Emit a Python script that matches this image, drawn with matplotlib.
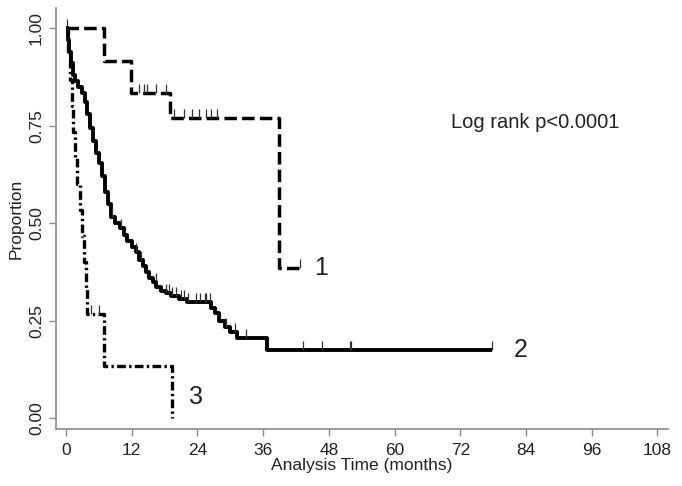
import numpy as np
import matplotlib
matplotlib.use("Agg")
import matplotlib.pyplot as plt

plt.rcParams['font.family'] = ['Liberation Sans', 'DejaVu Sans']

# ---- data ----
# group 1 (dashed)
g1_time = [0.0, 7.0, 11.8, 19.0, 38.8]
g1_surv = [1.0, 0.917, 0.833, 0.77, 0.385]
g1_end = 42.8
g1_cens = [13.3, 14.3, 14.8, 16.5, 18.3, 19.7, 21.6, 23.0, 24.3, 25.6, 26.5, 27.6, 42.8]

# group 2 (solid)
g2_time = [0.0, 0.3, 0.6, 0.9, 1.2, 1.6, 2.2, 2.9, 3.4, 3.9, 4.4, 4.9, 5.4, 6.0,
           6.6, 7.2, 7.7, 8.2, 9.0, 9.8, 10.5, 11.2, 12.0, 12.7, 13.4, 14.0,
           14.6, 15.2, 15.8, 16.5, 17.3, 18.2, 19.2, 20.6, 22.0, 26.5, 27.2,
           28.0, 29.0, 30.0, 31.3, 36.7]
g2_surv = [1.0, 0.97, 0.94, 0.91, 0.88, 0.865, 0.85, 0.833, 0.81, 0.78, 0.745,
           0.71, 0.68, 0.654, 0.62, 0.58, 0.55, 0.515, 0.50, 0.487, 0.47, 0.455,
           0.44, 0.425, 0.405, 0.39, 0.375, 0.36, 0.348, 0.337, 0.327, 0.32,
           0.313, 0.305, 0.297, 0.283, 0.27, 0.25, 0.234, 0.22, 0.205, 0.174]
g2_end = 77.7
g2_cens = [0.1, 8.4, 10.0, 12.7, 13.6, 16.4, 18.2, 18.8, 19.4, 20.1, 21.0, 21.6,
           22.3, 23.8, 24.4, 25.3, 25.6, 26.2, 29.3, 30.8, 32.9, 43.2, 46.8,
           51.8, 52.1, 77.7]

# group 3 (dash-dot)
g3_time = [0.0, 0.4, 0.7, 1.0, 1.3, 1.6, 2.0, 2.6, 3.0, 3.3, 3.6, 3.9, 7.0, 19.4]
g3_surv = [1.0, 0.933, 0.867, 0.8, 0.733, 0.667, 0.6, 0.533, 0.467, 0.4,
           0.333, 0.267, 0.133, 0.0]
g3_end = 19.4
g3_cens = [4.6, 6.0]

group_labels = ["1", "2", "3"]
x_ticks = [0, 12, 24, 36, 48, 60, 72, 84, 96, 108]
y_ticks = [0.00, 0.25, 0.50, 0.75, 1.00]

# ---- figure ----
fig = plt.figure(figsize=(6.82, 4.86), dpi=100)
ax = fig.add_axes([0.082, 0.117, 0.898, 0.866])

def step_at(times, surv, t):
    idx = np.searchsorted(np.asarray(times), t, side='right') - 1
    return np.asarray(surv)[idx]

def draw(times, surv, end, cens, **kw):
    tt = list(times) + [end]
    ss = list(surv) + [surv[-1]]
    ax.step(tt, ss, where='post', color='black', solid_capstyle='butt',
            dash_capstyle='butt', **kw)
    sc = [step_at(times, surv, c) for c in cens]
    ax.vlines(cens, sc, np.array(sc) + 0.024, color='#333333', lw=0.9)

draw(g1_time, g1_surv, g1_end, g1_cens, lw=2.5, linestyle=(0, (3.6, 1.5)))
draw(g2_time, g2_surv, g2_end, g2_cens, lw=2.8, linestyle='-')
draw(g3_time, g3_surv, g3_end, g3_cens, lw=2.4,
     linestyle=(0, (2.6, 1.0, 0.7, 1.0)))

ax.set_xlim(-1.85, 110)
ax.set_ylim(-0.028, 1.051)
ax.set_xticks(x_ticks)
ax.set_xticklabels([str(v) for v in x_ticks])
ax.set_yticks(y_ticks)
ax.set_yticklabels([f"{v:.2f}" for v in y_ticks], rotation=90, va='center')

for s in ['top', 'right']:
    ax.spines[s].set_visible(False)
for s in ['left', 'bottom']:
    ax.spines[s].set_color('#8a8a8a')
    ax.spines[s].set_linewidth(1.2)
ax.tick_params(axis='both', colors='#8a8a8a', length=5, width=1.0,
               labelcolor='#222222', labelsize=12.5)
ax.tick_params(axis='x', pad=5)

ax.set_xlabel("Analysis Time (months)", fontsize=12.5, color='#222222',
              labelpad=0)
ax.set_ylabel("Proportion", fontsize=12.5, color='#222222', labelpad=4)

ax.text(g1_end + 2.5, g1_surv[-1], group_labels[0], fontsize=18,
        va='center', ha='left', color='#222222')
ax.text(g2_end + 4.0, g2_surv[-1], group_labels[1], fontsize=18,
        va='center', ha='left', color='#222222')
ax.text(g3_end + 3.0, 0.055, group_labels[2], fontsize=18,
        va='center', ha='left', color='#222222')

ax.text(70.3, 0.757, "Log rank p<0.0001", fontsize=14.5, va='center',
        ha='left', color='#222222')

fig.savefig("out.png", dpi=100)
